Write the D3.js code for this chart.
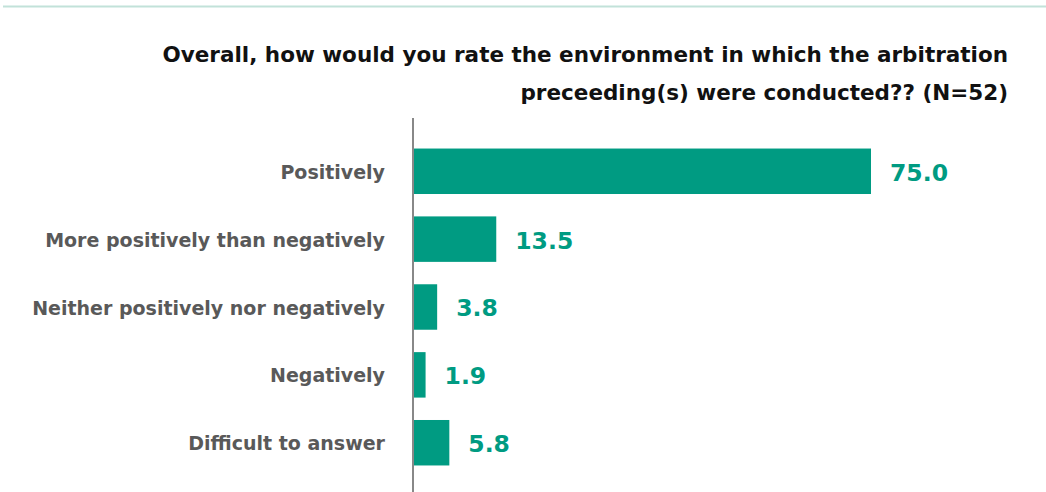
<!DOCTYPE html>
<html>
<head>
<meta charset="utf-8">
<script src="https://cdn.jsdelivr.net/npm/d3@7"></script>
<style>
  html, body { margin: 0; padding: 0; background: #fff; }
  svg { display: block; font-family: "DejaVu Sans", sans-serif; }
</style>
</head>
<body>
<svg id="chart" width="1046" height="492"></svg>
<script>
const categories = [
  "Positively",
  "More positively than negatively",
  "Neither positively nor negatively",
  "Negatively",
  "Difficult to answer"
];
const values = [75.0, 13.5, 3.8, 1.9, 5.8];
const titleLines = [
  "Overall, how would you rate the environment in which the arbitration",
  "preceeding(s) were conducted?? (N=52)"
];

const svg = d3.select("#chart");
const W = 1046, H = 492;
const plotLeft = 413, plotTop = 137;

// thin rule across the top
svg.append("line")
  .attr("x1", 3).attr("x2", W).attr("y1", 6.5).attr("y2", 6.5)
  .attr("stroke", "#c2e2d9").attr("stroke-width", 2);

// title, right aligned
svg.append("g").selectAll("text").data(titleLines).join("text")
  .attr("x", 1008)
  .attr("y", (d, i) => 62 + i * 38)
  .attr("text-anchor", "end")
  .attr("font-size", 21.5)
  .attr("font-weight", "bold")
  .attr("fill", "#111")
  .text(d => d);

const x = d3.scaleLinear().domain([0, 75]).range([plotLeft + 1, 871]);
const y = d3.scaleBand().domain(categories).range([plotTop, plotTop + 68 * 5]).paddingInner(0.33).paddingOuter(0.17);

const g = svg.append("g");

g.selectAll("rect").data(values).join("rect")
  .attr("x", x(0))
  .attr("y", (d, i) => y(categories[i]))
  .attr("width", d => x(d) - x(0))
  .attr("height", y.bandwidth())
  .attr("fill", "#009b82");

// category labels
const yAxis = d3.axisLeft(y).tickSize(0).tickPadding(28);
const ax = svg.append("g").attr("transform", `translate(${plotLeft},1.5)`).call(yAxis);
ax.select(".domain").remove();
ax.selectAll("text")
  .attr("font-family", "DejaVu Sans, sans-serif")
  .attr("font-size", 19)
  .attr("font-weight", "bold")
  .attr("fill", "#595959");

// vertical baseline
svg.append("line")
  .attr("x1", plotLeft).attr("x2", plotLeft)
  .attr("y1", 118).attr("y2", H)
  .attr("stroke", "#888").attr("stroke-width", 2);

// value labels
g.selectAll("text.val").data(values).join("text")
  .attr("class", "val")
  .attr("x", d => x(d) + 19)
  .attr("y", (d, i) => y(categories[i]) + y.bandwidth() / 2 + 1)
  .attr("dy", "0.36em")
  .attr("font-size", 23.5)
  .attr("font-weight", "bold")
  .attr("fill", "#009b82")
  .text(d => d.toFixed(1));
</script>
</body>
</html>
